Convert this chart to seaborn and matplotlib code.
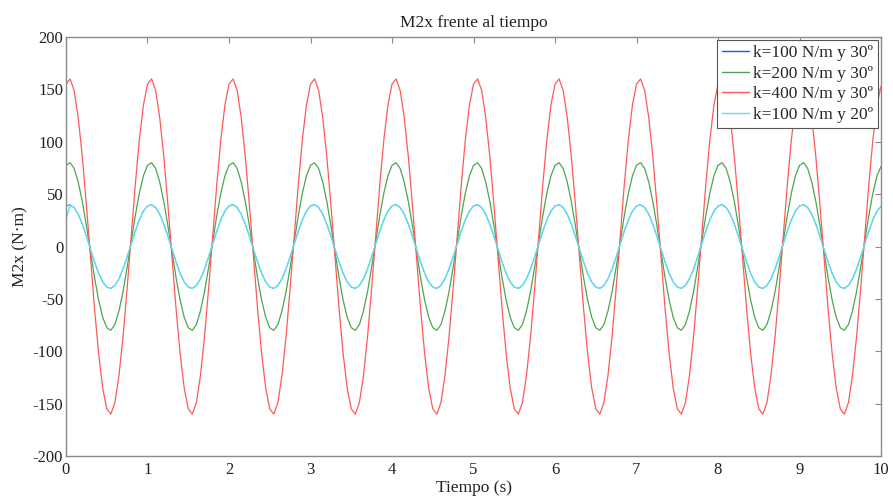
import numpy as np
import pandas as pd
import matplotlib
matplotlib.use("Agg")
import matplotlib.pyplot as plt
import seaborn as sns

# ---------------- data ----------------
time = np.round(np.arange(0, 10.0001, 0.05), 2)

red_400_30 = [
    155, 160, 149, 123, 86, 40, -10, -59, -102, -135, -155, -160, -149, -123, -86, -40, 10, 59, 102, 135,
    155, 160, 149, 123, 86, 40, -10, -59, -102, -135, -155, -160, -149, -123, -86, -40, 10, 59, 102, 135,
    155, 160, 149, 123, 86, 40, -10, -59, -102, -135, -155, -160, -149, -123, -86, -40, 10, 59, 102, 135,
    155, 160, 149, 123, 86, 40, -10, -59, -102, -135, -155, -160, -149, -123, -86, -40, 10, 59, 102, 135,
    155, 160, 149, 123, 86, 40, -10, -59, -102, -135, -155, -160, -149, -123, -86, -40, 10, 59, 102, 135,
    155, 160, 149, 123, 86, 40, -10, -59, -102, -135, -155, -160, -149, -123, -86, -40, 10, 59, 102, 135,
    155, 160, 149, 123, 86, 40, -10, -59, -102, -135, -155, -160, -149, -123, -86, -40, 10, 59, 102, 135,
    155, 160, 149, 123, 86, 40, -10, -59, -102, -135, -155, -160, -149, -123, -86, -40, 10, 59, 102, 135,
    155, 160, 149, 123, 86, 40, -10, -59, -102, -135, -155, -160, -149, -123, -86, -40, 10, 59, 102, 135,
    155, 160, 149, 123, 86, 40, -10, -59, -102, -135, -155, -160, -149, -123, -86, -40, 10, 59, 102, 135,
    153,
]

green_200_30 = [
    77.5, 80, 74.5, 61.5, 43, 20, -5, -29.5, -51, -67.5, -77.5, -80, -74.5, -61.5, -43, -20, 5, 29.5, 51, 67.5,
    77.5, 80, 74.5, 61.5, 43, 20, -5, -29.5, -51, -67.5, -77.5, -80, -74.5, -61.5, -43, -20, 5, 29.5, 51, 67.5,
    77.5, 80, 74.5, 61.5, 43, 20, -5, -29.5, -51, -67.5, -77.5, -80, -74.5, -61.5, -43, -20, 5, 29.5, 51, 67.5,
    77.5, 80, 74.5, 61.5, 43, 20, -5, -29.5, -51, -67.5, -77.5, -80, -74.5, -61.5, -43, -20, 5, 29.5, 51, 67.5,
    77.5, 80, 74.5, 61.5, 43, 20, -5, -29.5, -51, -67.5, -77.5, -80, -74.5, -61.5, -43, -20, 5, 29.5, 51, 67.5,
    77.5, 80, 74.5, 61.5, 43, 20, -5, -29.5, -51, -67.5, -77.5, -80, -74.5, -61.5, -43, -20, 5, 29.5, 51, 67.5,
    77.5, 80, 74.5, 61.5, 43, 20, -5, -29.5, -51, -67.5, -77.5, -80, -74.5, -61.5, -43, -20, 5, 29.5, 51, 67.5,
    77.5, 80, 74.5, 61.5, 43, 20, -5, -29.5, -51, -67.5, -77.5, -80, -74.5, -61.5, -43, -20, 5, 29.5, 51, 67.5,
    77.5, 80, 74.5, 61.5, 43, 20, -5, -29.5, -51, -67.5, -77.5, -80, -74.5, -61.5, -43, -20, 5, 29.5, 51, 67.5,
    77.5, 80, 74.5, 61.5, 43, 20, -5, -29.5, -51, -67.5, -77.5, -80, -74.5, -61.5, -43, -20, 5, 29.5, 51, 67.5,
    76.5,
]

blue_100_30 = [
    38.7, 40, 37.2, 30.8, 21.4, 9.9, -2.5, -14.7, -25.5, -33.8, -38.7, -40, -37.2, -30.8, -21.4, -9.9, 2.5, 14.7, 25.5, 33.8,
    38.7, 40, 37.2, 30.8, 21.4, 9.9, -2.5, -14.7, -25.5, -33.8, -38.7, -40, -37.2, -30.8, -21.4, -9.9, 2.5, 14.7, 25.5, 33.8,
    38.7, 40, 37.2, 30.8, 21.4, 9.9, -2.5, -14.7, -25.5, -33.8, -38.7, -40, -37.2, -30.8, -21.4, -9.9, 2.5, 14.7, 25.5, 33.8,
    38.7, 40, 37.2, 30.8, 21.4, 9.9, -2.5, -14.7, -25.5, -33.8, -38.7, -40, -37.2, -30.8, -21.4, -9.9, 2.5, 14.7, 25.5, 33.8,
    38.7, 40, 37.2, 30.8, 21.4, 9.9, -2.5, -14.7, -25.5, -33.8, -38.7, -40, -37.2, -30.8, -21.4, -9.9, 2.5, 14.7, 25.5, 33.8,
    38.7, 40, 37.2, 30.8, 21.4, 9.9, -2.5, -14.7, -25.5, -33.8, -38.7, -40, -37.2, -30.8, -21.4, -9.9, 2.5, 14.7, 25.5, 33.8,
    38.7, 40, 37.2, 30.8, 21.4, 9.9, -2.5, -14.7, -25.5, -33.8, -38.7, -40, -37.2, -30.8, -21.4, -9.9, 2.5, 14.7, 25.5, 33.8,
    38.7, 40, 37.2, 30.8, 21.4, 9.9, -2.5, -14.7, -25.5, -33.8, -38.7, -40, -37.2, -30.8, -21.4, -9.9, 2.5, 14.7, 25.5, 33.8,
    38.7, 40, 37.2, 30.8, 21.4, 9.9, -2.5, -14.7, -25.5, -33.8, -38.7, -40, -37.2, -30.8, -21.4, -9.9, 2.5, 14.7, 25.5, 33.8,
    38.7, 40, 37.2, 30.8, 21.4, 9.9, -2.5, -14.7, -25.5, -33.8, -38.7, -40, -37.2, -30.8, -21.4, -9.9, 2.5, 14.7, 25.5, 33.8,
    38.2,
]

cyan_100_20 = [
    26, 39.5, 37.2, 30.8, 21.4, 9.9, -2.5, -14.7, -25.5, -33.8, -38.7, -40, -37.2, -30.8, -21.4, -9.9, 2.5, 14.7, 25.5, 33.8,
    38.7, 40, 37.2, 30.8, 21.4, 9.9, -2.5, -14.7, -25.5, -33.8, -38.7, -40, -37.2, -30.8, -21.4, -9.9, 2.5, 14.7, 25.5, 33.8,
    38.7, 40, 37.2, 30.8, 21.4, 9.9, -2.5, -14.7, -25.5, -33.8, -38.7, -40, -37.2, -30.8, -21.4, -9.9, 2.5, 14.7, 25.5, 33.8,
    38.7, 40, 37.2, 30.8, 21.4, 9.9, -2.5, -14.7, -25.5, -33.8, -38.7, -40, -37.2, -30.8, -21.4, -9.9, 2.5, 14.7, 25.5, 33.8,
    38.7, 40, 37.2, 30.8, 21.4, 9.9, -2.5, -14.7, -25.5, -33.8, -38.7, -40, -37.2, -30.8, -21.4, -9.9, 2.5, 14.7, 25.5, 33.8,
    38.7, 40, 37.2, 30.8, 21.4, 9.9, -2.5, -14.7, -25.5, -33.8, -38.7, -40, -37.2, -30.8, -21.4, -9.9, 2.5, 14.7, 25.5, 33.8,
    38.7, 40, 37.2, 30.8, 21.4, 9.9, -2.5, -14.7, -25.5, -33.8, -38.7, -40, -37.2, -30.8, -21.4, -9.9, 2.5, 14.7, 25.5, 33.8,
    38.7, 40, 37.2, 30.8, 21.4, 9.9, -2.5, -14.7, -25.5, -33.8, -38.7, -40, -37.2, -30.8, -21.4, -9.9, 2.5, 14.7, 25.5, 33.8,
    38.7, 40, 37.2, 30.8, 21.4, 9.9, -2.5, -14.7, -25.5, -33.8, -38.7, -40, -37.2, -30.8, -21.4, -9.9, 2.5, 14.7, 25.5, 33.8,
    38.7, 40, 37.2, 30.8, 21.4, 9.9, -2.5, -14.7, -25.5, -33.8, -38.7, -40, -37.2, -30.8, -21.4, -9.9, 2.5, 14.7, 25.5, 33.8,
    38.2,
]

labels = ["k=100 N/m y 30º", "k=200 N/m y 30º", "k=400 N/m y 30º", "k=100 N/m y 20º"]
series = [blue_100_30, green_200_30, red_400_30, cyan_100_20]
colors = ["#2b4cf0", "#4ea54e", "#ff5a5a", "#5ae2ea"]
widths = [0.6, 0.9, 0.9, 1.0]

title = "M2x frente al tiempo"
xlabel = "Tiempo (s)"
ylabel = "M2x (N·m)"
xticks = [0, 1, 2, 3, 4, 5, 6, 7, 8, 9, 10]
yticks = [-200, -150, -100, -50, 0, 50, 100, 150, 200]

# ---------------- build table ----------------
frames = []
for lab, vals in zip(labels, series):
    frames.append(pd.DataFrame({"t": time, "M": vals, "serie": lab}))
df = pd.concat(frames, ignore_index=True)

sns.set_theme(style="white")
plt.rcParams["font.family"] = ["Liberation Serif", "DejaVu Serif"]
plt.rcParams["axes.unicode_minus"] = False

fig = plt.figure(figsize=(8.93, 4.98), dpi=100)
ax = fig.add_axes([0.0739, 0.0843, 0.9127, 0.8414])

sns.lineplot(data=df, x="t", y="M", hue="serie", hue_order=labels,
             palette=dict(zip(labels, colors)), estimator=None, sort=False,
             linewidth=0.9, ax=ax, legend=True)
for ln, w in zip(ax.get_lines(), widths):
    ln.set_linewidth(w)

ax.set_xlim(0, 10)
ax.set_ylim(-200, 200)
ax.set_xticks(xticks)
ax.set_yticks(yticks)
ax.tick_params(direction="in", top=True, right=True, length=4, width=0.8,
               color="#8a8a8a", labelsize=12, labelcolor="#222222")
ax.tick_params(axis="x", pad=4)
ax.tick_params(axis="y", pad=2)
for s in ax.spines.values():
    s.set_color("#8a8a8a")
    s.set_linewidth(1.0)

ax.set_title(title, fontsize=12.5, color="#222222", pad=7)
ax.set_xlabel(xlabel, fontsize=12.5, color="#222222", labelpad=2)
ax.set_ylabel(ylabel, fontsize=12.5, color="#222222", labelpad=3)

handles, labs = ax.get_legend_handles_labels()
leg = ax.legend(handles, labs, loc="upper right", fontsize=12.5, frameon=True,
                fancybox=False, edgecolor="#555555", framealpha=1,
                borderaxespad=0.2, handlelength=1.55, handletextpad=0.2,
                labelspacing=0.25, borderpad=0.28)
leg.get_frame().set_linewidth(0.8)
for h in leg.get_lines():
    h.set_linewidth(1.0)

fig.savefig("out.png", dpi=100)
